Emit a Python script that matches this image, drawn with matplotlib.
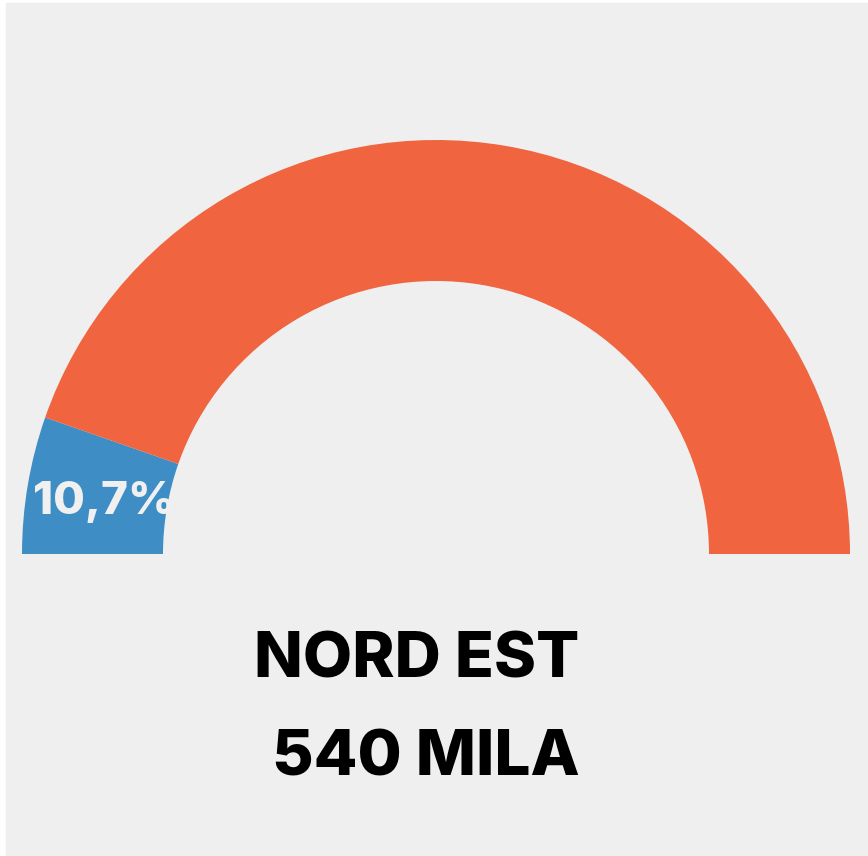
import numpy as np
import matplotlib.pyplot as plt
from matplotlib.patches import Rectangle

# dati
etichette = ['Quota', 'Resto']
valori = [10.7, 89.3]
colori = ['#3e8ec5', '#f0643f']
area = 'NORD EST'
totale = '540 MILA'

W, H = 868, 856
fig = plt.figure(figsize=(W / 100, H / 100), dpi=100, facecolor='white')
ax = fig.add_axes([0, 0, 1, 1])

# sfondo grigio (bordo bianco sottile a sinistra e in alto)
ax.add_patch(Rectangle((6, 0), W - 6, H - 3, color='#efefef', zorder=0))

cx, cy = 436, H - 554
r_out, r_in = 414, 273

# mezza ciambella: l'ultima fetta invisibile chiude il cerchio
wedges, _ = ax.pie(valori + [sum(valori)],
                   colors=colori + ['none'],
                   startangle=180, counterclock=False,
                   radius=r_out, center=(cx, cy),
                   wedgeprops=dict(width=r_out - r_in, linewidth=0))

# etichetta percentuale sulla fetta blu
ang = np.deg2rad(180 - 180 * valori[0] / sum(valori) / 2)
rm = (r_out + r_in) / 2
ax.text(cx + rm * np.cos(ang) + 7, cy + rm * np.sin(ang) - 1,
        f"{valori[0]:.1f}%".replace('.', ','),
        color='#f0f0f0', fontsize=33, fontweight='heavy', family='Inter',
        ha='center', va='center_baseline')

ax.text(417, H - 677, area, fontsize=46, fontweight='heavy', family='Inter',
        ha='center', va='baseline', color='black')
ax.text(426, H - 775, totale, fontsize=46, fontweight='heavy', family='Inter',
        ha='center', va='baseline', color='black')

ax.set_xlim(0, W)
ax.set_ylim(0, H)
ax.set_aspect('auto')
ax.axis('off')

plt.savefig('out.png', dpi=100, facecolor='white')
